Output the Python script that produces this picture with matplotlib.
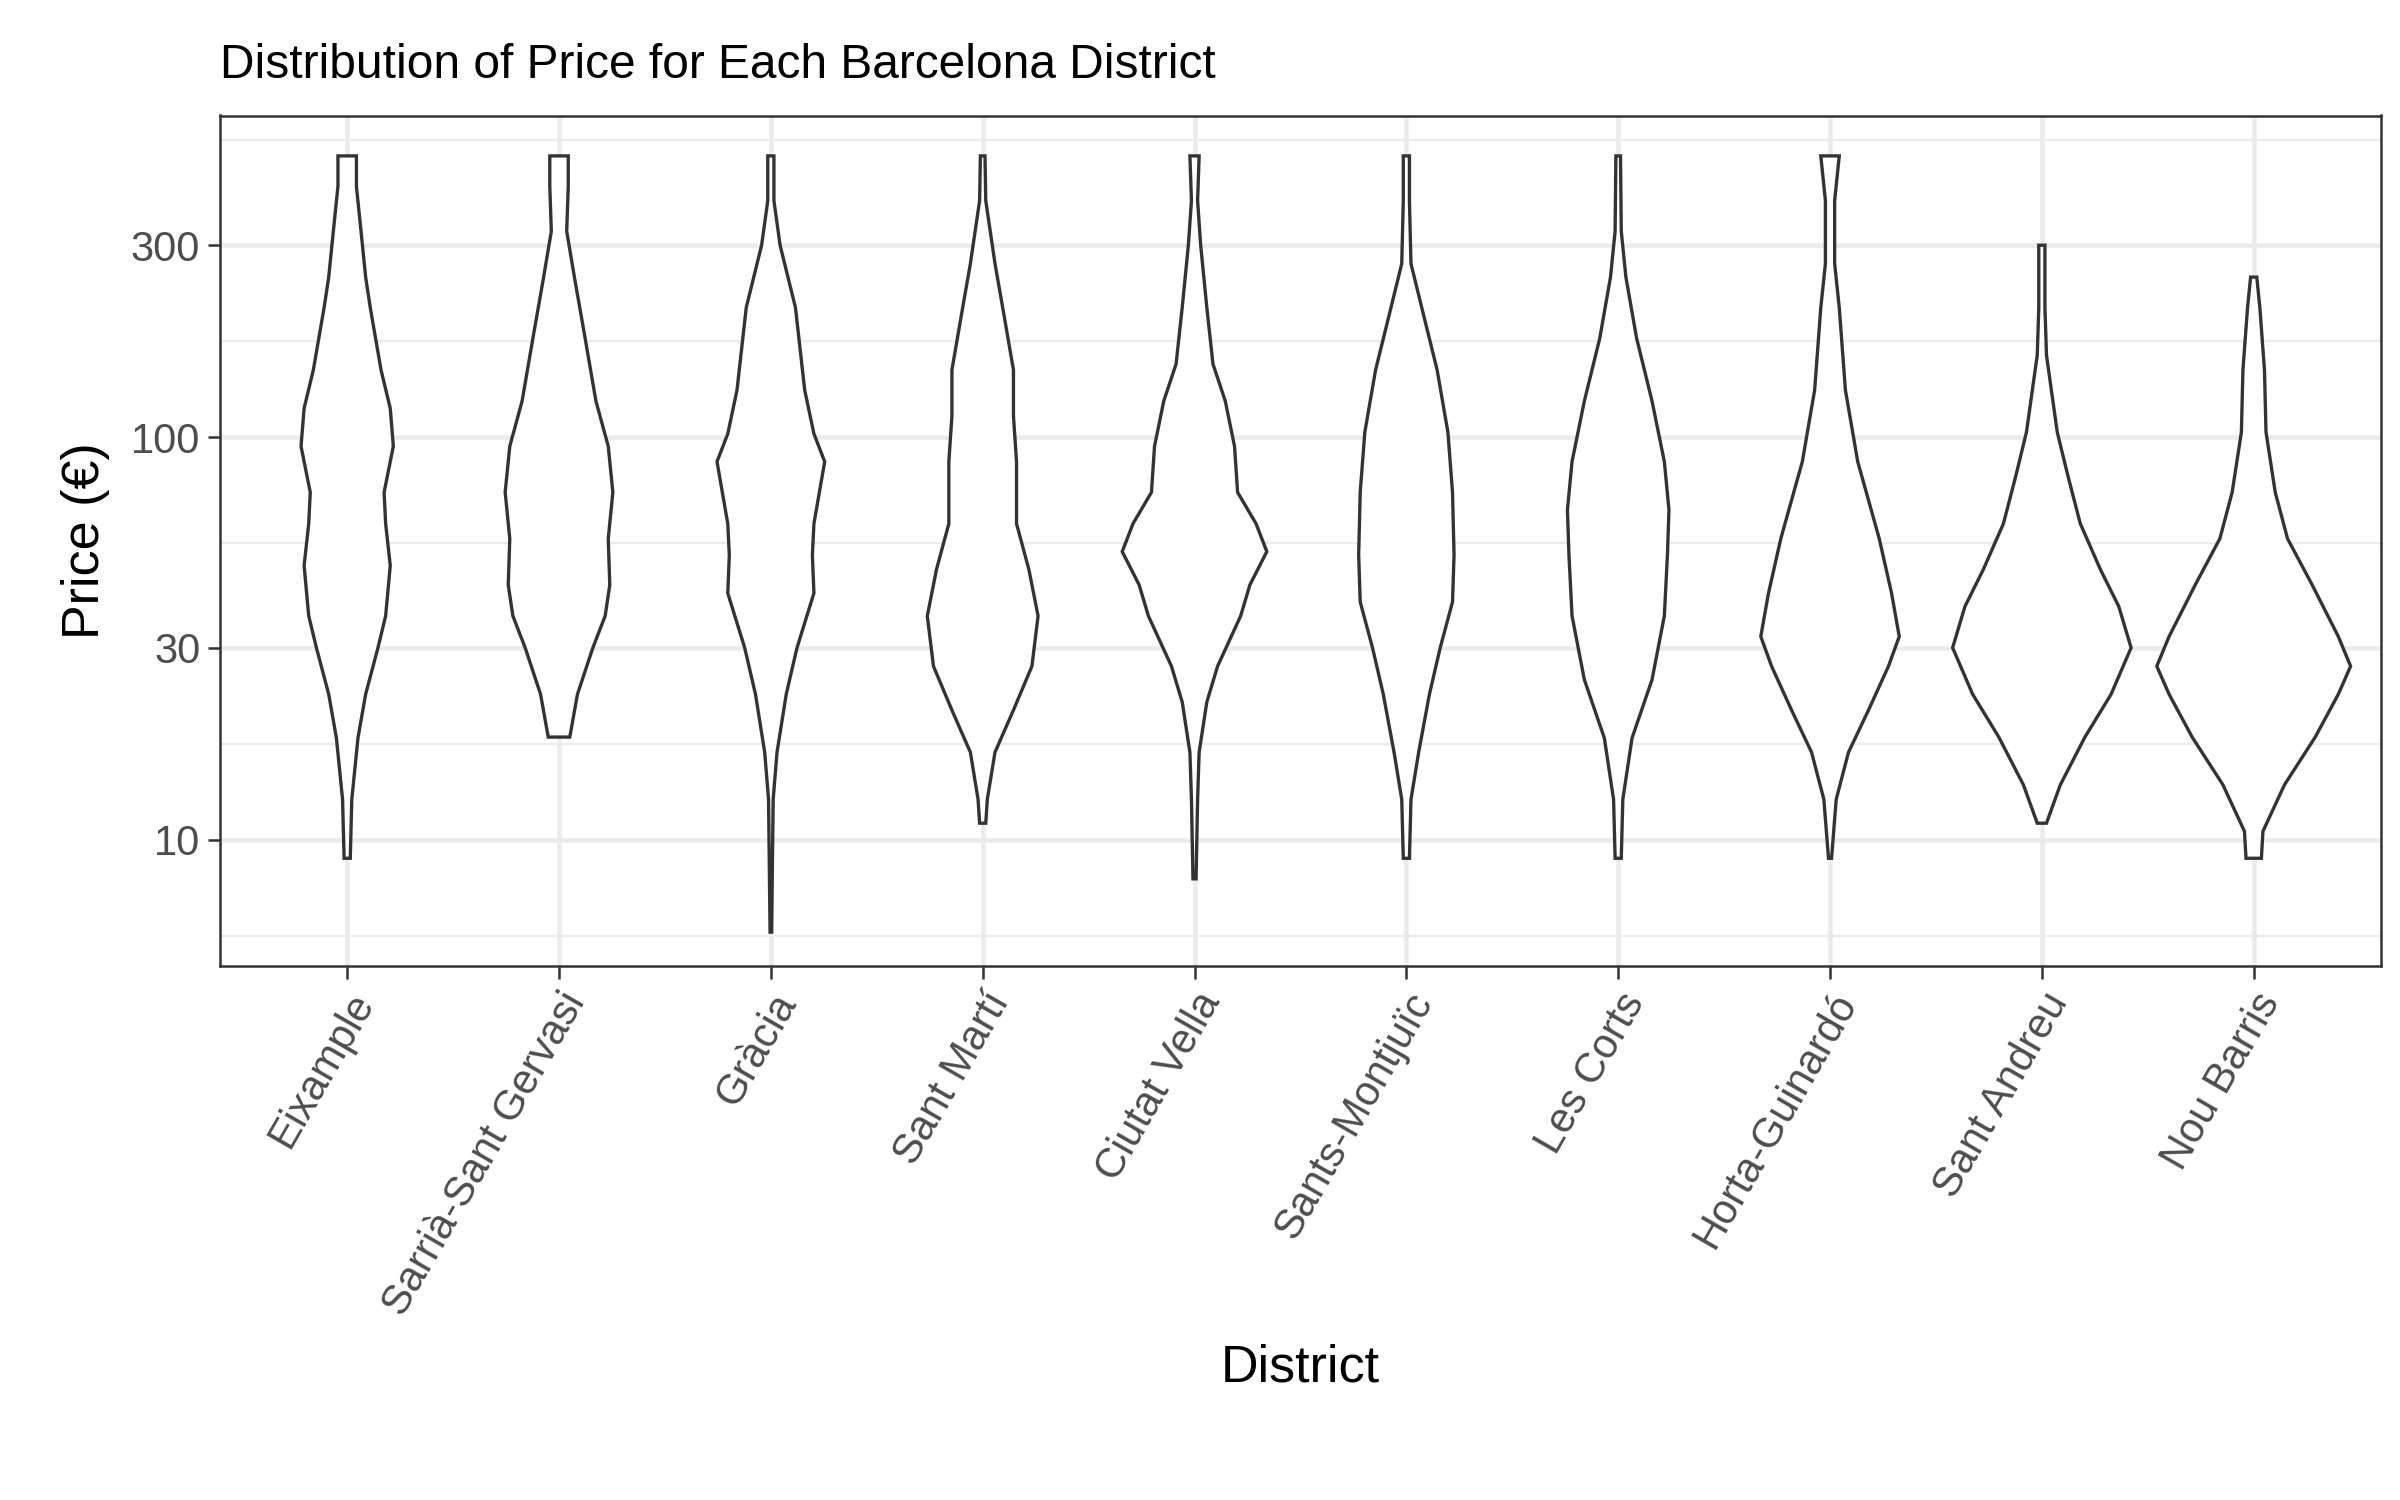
import numpy as np
import matplotlib
matplotlib.use("Agg")
import matplotlib.pyplot as plt
from matplotlib.ticker import FixedLocator, NullFormatter

plt.rcParams['font.family'] = ['Liberation Sans', 'DejaVu Sans']

districts = ["Eixample", "Sarrià-Sant Gervasi", "Gràcia", "Sant Martí", "Ciutat Vella",
             "Sants-Montjuïc", "Les Corts", "Horta-Guinardó", "Sant Andreu", "Nou Barris"]

# violin outlines: price levels and half-width (pixels of the original, 137.7 px = 1 category)
eixample_p = [9, 12.6, 17.9, 23, 30, 36, 48, 61, 73, 95, 118, 147, 210, 250, 325, 420, 500]
eixample_w = [2, 3, 7, 12, 20, 25, 28, 25, 24, 30, 28, 22, 15, 12, 9, 6, 6]
sarria_p = [18, 23, 30, 36, 43, 56, 73, 95, 123, 176, 250, 325, 420, 500]
sarria_w = [7, 12, 22, 30, 33, 32, 35, 32, 24, 17, 10, 5, 6, 6]
gracia_p = [5.9, 12.6, 16.5, 23, 30, 41, 51, 61, 87, 102, 131, 210, 300, 387, 500]
gracia_w = [0.5, 1.5, 4, 10, 17, 28, 27, 28, 35, 28, 22, 16, 6, 2, 2]
martí_p = [11, 12.6, 16.5, 21, 27, 36, 47, 61, 87, 113, 147, 210, 270, 387, 500]
martí_w = [2, 3, 8, 20, 32, 36, 30, 22, 22, 20, 20, 13, 8, 2, 1.5]
ciutat_p = [8, 12.6, 16.5, 22, 27, 36, 43, 52, 61, 73, 95, 123, 152, 210, 300, 387, 500]
ciutat_w = [1, 2, 3, 8, 15, 30, 36, 47, 40, 28, 26, 20, 12, 8, 4, 2, 3]
sants_p = [9, 12.6, 16.5, 23, 30, 39, 51, 73, 103, 147, 210, 270, 387, 500]
sants_w = [2, 3, 8, 15, 22, 30, 31, 30, 27, 20, 10, 3, 2, 2]
corts_p = [9, 12.6, 17.9, 25, 36, 51, 66, 87, 123, 176, 250, 325, 500]
corts_w = [2, 3, 9, 22, 30, 32, 33, 30, 22, 12, 5, 2, 1.5]
horta_p = [9, 12.6, 16.5, 21, 27, 32, 41, 56, 87, 131, 210, 270, 387, 500]
horta_w = [1, 4, 12, 25, 38, 45, 40, 32, 18, 10, 6, 3, 3, 6]
andreu_p = [11, 13.7, 18, 23, 30, 38, 47, 61, 80, 103, 160, 210, 300]
andreu_w = [3, 12, 28, 45, 58, 50, 38, 25, 17, 10, 3, 2, 2]
nou_p = [9, 10.5, 13.7, 18, 23, 27, 32, 43, 56, 73, 103, 147, 210, 250]
nou_w = [5, 6, 20, 40, 55, 63, 55, 38, 22, 14, 8, 7, 4, 2]

prices = [eixample_p, sarria_p, gracia_p, martí_p, ciutat_p, sants_p, corts_p, horta_p, andreu_p, nou_p]
widths = [eixample_w, sarria_w, gracia_w, martí_w, ciutat_w, sants_w, corts_w, horta_w, andreu_w, nou_w]

fig = plt.figure(figsize=(16, 10), dpi=150)
ax = fig.add_axes([0.0917, 0.356, 0.9003, 0.567])

for i, (p, w) in enumerate(zip(prices, widths)):
    x0 = i + 1
    p = np.array(p, dtype=float)
    w = np.array(w, dtype=float) / 137.7
    xs = np.concatenate([x0 + w, (x0 - w)[::-1]])
    ys = np.concatenate([p, p[::-1]])
    ax.fill(xs, ys, facecolor="white", edgecolor="#333333", lw=1.6, zorder=3)

ax.set_yscale("log")
ax.set_ylim(4.86, 630)
ax.set_xlim(0.4, 10.6)
ax.yaxis.set_major_locator(FixedLocator([10, 30, 100, 300]))
ax.set_yticklabels(["10", "30", "100", "300"])
ax.yaxis.set_minor_locator(FixedLocator([10 / np.sqrt(3), np.sqrt(300), np.sqrt(3000), np.sqrt(30000), 300 * np.sqrt(10 / 3)]))
ax.yaxis.set_minor_formatter(NullFormatter())
ax.set_xticks(range(1, 11))
ax.set_xticklabels(districts, rotation=60, ha="right", rotation_mode="anchor")

ax.grid(which="major", color="#EBEBEB", lw=2.2, zorder=0)
ax.grid(which="minor", axis="y", color="#EBEBEB", lw=1.1, zorder=0)
ax.set_axisbelow(True)
for s in ax.spines.values():
    s.set_color("#333333")
    s.set_linewidth(1.2)
ax.tick_params(which="major", colors="#333333", labelcolor="#4D4D4D", labelsize=20, length=6, width=1.2)
ax.tick_params(which="minor", length=0)

ax.set_xlabel("District", fontsize=25, labelpad=10)
ax.set_ylabel("Price (€)", fontsize=25, labelpad=10)
ax.set_title("Distribution of Price for Each Barcelona District", fontsize=23, loc="left", pad=18)

fig.savefig("out.png", dpi=150)
